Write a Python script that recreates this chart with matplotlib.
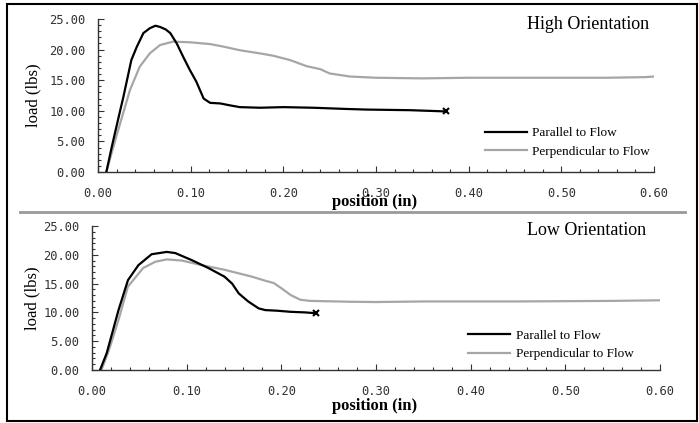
import matplotlib
matplotlib.use("Agg")
import matplotlib.pyplot as plt
from matplotlib.lines import Line2D
from matplotlib.patches import Rectangle
from matplotlib.ticker import MultipleLocator, FormatStrFormatter

# ---------------- data ----------------
high_par_x = [0.009, 0.015, 0.024, 0.027, 0.029, 0.036, 0.042, 0.049, 0.056, 0.062, 0.067, 0.073,
              0.078, 0.085, 0.092, 0.099, 0.106, 0.114, 0.121, 0.132, 0.142, 0.153, 0.175, 0.200,
              0.232, 0.268, 0.290, 0.337, 0.375]
high_par_y = [0.0, 4.2, 10.1, 12.0, 13.4, 18.3, 20.5, 22.7, 23.5, 23.9, 23.7, 23.3,
              22.7, 21.0, 18.8, 16.7, 14.8, 12.0, 11.3, 11.2, 10.9, 10.6, 10.5, 10.6,
              10.5, 10.3, 10.2, 10.1, 9.9]

high_perp_x = [0.009, 0.016, 0.024, 0.0345, 0.045, 0.056, 0.067, 0.081, 0.099, 0.121, 0.135,
               0.153, 0.178, 0.189, 0.207, 0.225, 0.240, 0.250, 0.272, 0.300, 0.350, 0.400,
               0.450, 0.500, 0.550, 0.590, 0.600]
high_perp_y = [0.0, 3.8, 8.0, 13.4, 17.2, 19.4, 20.75, 21.3, 21.2, 20.9, 20.5,
               19.9, 19.3, 19.0, 18.3, 17.3, 16.8, 16.1, 15.6, 15.4, 15.3, 15.4,
               15.4, 15.4, 15.4, 15.5, 15.6]

low_par_x = [0.0085, 0.0155, 0.028, 0.038, 0.049, 0.063, 0.079, 0.088, 0.105, 0.123, 0.140,
             0.148, 0.155, 0.165, 0.176, 0.183, 0.195, 0.210, 0.225, 0.237]
low_par_y = [0.0, 2.9, 10.4, 15.6, 18.2, 20.1, 20.5, 20.3, 19.1, 17.7, 16.2,
             15.0, 13.3, 11.9, 10.7, 10.4, 10.3, 10.1, 10.0, 9.85]

low_perp_x = [0.010, 0.018, 0.028, 0.038, 0.054, 0.067, 0.079, 0.095, 0.116, 0.140, 0.169,
              0.183, 0.192, 0.200, 0.210, 0.220, 0.230, 0.273, 0.300, 0.350, 0.400, 0.450,
              0.500, 0.550, 0.600]
low_perp_y = [0.0, 3.5, 8.7, 14.5, 17.7, 18.8, 19.2, 19.0, 18.2, 17.4, 16.2,
              15.5, 15.1, 14.2, 13.0, 12.2, 12.0, 11.85, 11.8, 11.9, 11.9, 11.9,
              11.95, 12.0, 12.1]

titles = ["High Orientation", "Low Orientation"]
series_names = ["Parallel to Flow", "Perpendicular to Flow"]
xlabel = "position (in)"
ylabel = "load (lbs)"

# ---------------- figure ----------------
W, H = 699, 423
fig = plt.figure(figsize=(W / 100, H / 100), dpi=100)
fig.patch.set_facecolor("white")

def px_rect(l, r, t, b):
    return [l / W, 1 - b / H, (r - l) / W, (b - t) / H]

ax_top = fig.add_axes(px_rect(98, 654, 19, 172))
ax_bot = fig.add_axes(px_rect(92, 660, 226, 370))

serif = "Liberation Serif"
tickfont = "DejaVu Sans Mono"
black = "#000000"
gray = "#a6a6a6"

panels = [
    (ax_top, high_par_x, high_par_y, high_perp_x, high_perp_y, titles[0],
     (0.991, 0.961), (0.696, 0.193)),
    (ax_bot, low_par_x, low_par_y, low_perp_x, low_perp_y, titles[1],
     (0.975, 0.972), (0.662, 0.174)),
]

for ax, px_, py_, qx_, qy_, title, title_xy, leg_anchor in panels:
    ax.plot(qx_, qy_, color=gray, lw=1.6, label=series_names[1], zorder=2)
    ax.plot(px_, py_, color=black, lw=1.6, label=series_names[0], zorder=3)
    ax.plot([px_[-1]], [py_[-1]], marker="x", color=black, ms=5, mew=1.5, zorder=4)
    ax.set_xlim(0, 0.6)
    ax.set_ylim(0, 25)
    for s in ["top", "right"]:
        ax.spines[s].set_visible(False)
    for s in ["left", "bottom"]:
        ax.spines[s].set_color("#333333")
        ax.spines[s].set_linewidth(1.0)
    ax.xaxis.set_major_locator(MultipleLocator(0.1))
    ax.xaxis.set_minor_locator(MultipleLocator(0.02))
    ax.yaxis.set_major_locator(MultipleLocator(5))
    ax.yaxis.set_minor_locator(MultipleLocator(1))
    ax.xaxis.set_major_formatter(FormatStrFormatter("%.2f"))
    ax.yaxis.set_major_formatter(FormatStrFormatter("%.2f"))
    ax.tick_params(which="major", direction="in", length=4, width=0.8, color="#333333",
                   labelsize=8.7, labelcolor="#333333")
    ax.tick_params(which="minor", direction="in", length=2.5, width=0.8, color="#333333")
    ax.tick_params(axis="x", pad=10.5)
    ax.tick_params(axis="y", pad=9)
    for lab in ax.get_xticklabels() + ax.get_yticklabels():
        lab.set_fontfamily(tickfont)
    ax.set_ylabel(ylabel, fontfamily=serif, fontsize=12)
    ax.set_xlabel(xlabel, fontfamily=serif, fontsize=12, fontweight="bold")
    ax.text(title_xy[0], title_xy[1], title, transform=ax.transAxes, ha="right", va="center",
            fontfamily=serif, fontsize=13)
    handles = [Line2D([], [], color=black, lw=1.6), Line2D([], [], color=gray, lw=1.6)]
    ax.legend(handles, series_names, loc="center left", bbox_to_anchor=leg_anchor,
              frameon=False, prop={"family": serif, "size": 9.5}, handlelength=3.2,
              handletextpad=0.4, labelspacing=0.5, borderpad=0, borderaxespad=0)

ax_top.xaxis.set_label_coords(0.497, -0.144)
ax_top.yaxis.set_label_coords(-0.1025, 0.5)
ax_bot.xaxis.set_label_coords(0.498, -0.194)
ax_bot.yaxis.set_label_coords(-0.09, 0.5)

# outer frame and separator
fig.add_artist(Rectangle((7 / W, 1 - 421 / H), (697 - 7) / W, (421 - 4) / H,
                         transform=fig.transFigure, fill=False, ec="black", lw=1.5))
fig.add_artist(Line2D([20 / W, 685 / W], [1 - 212 / H, 1 - 212 / H],
                      transform=fig.transFigure, color="#999999", lw=2))

fig.savefig("out.png", dpi=100)
